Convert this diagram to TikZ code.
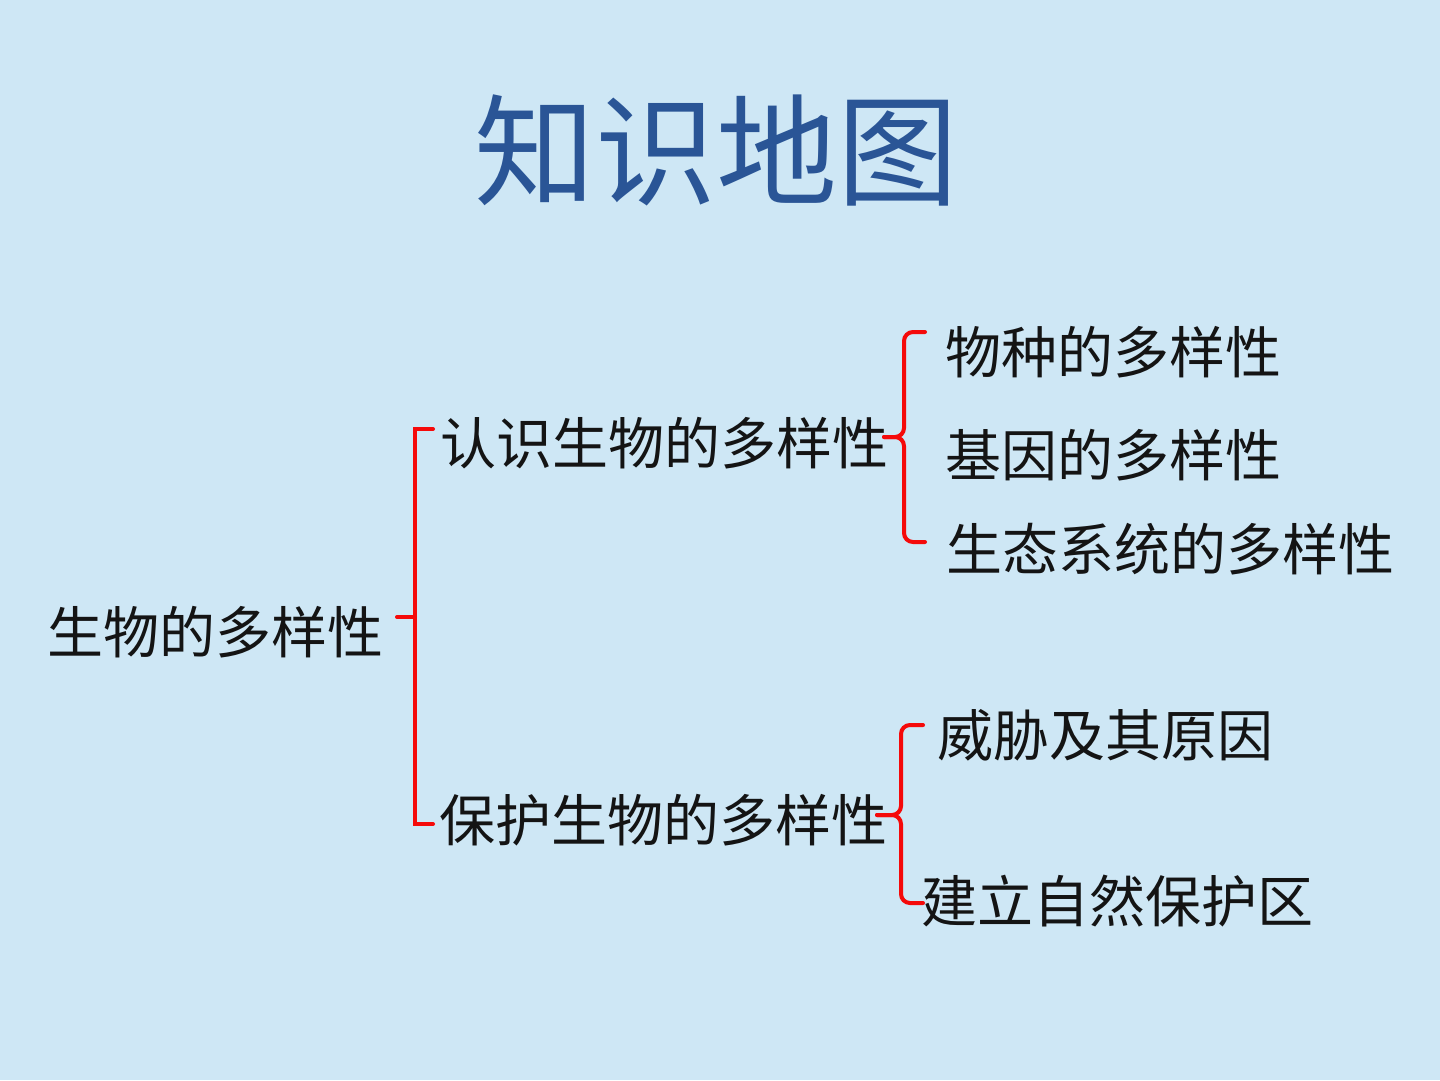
\documentclass[tikz,border=0pt]{standalone}
\usepackage{fontspec}
\newfontfamily\cjk{Noto Sans CJK SC}
\definecolor{bgblue}{RGB}{206,231,245}
\definecolor{titleblue}{RGB}{42,85,150}
\definecolor{bracered}{RGB}{245,10,10}
\begin{document}
\begin{tikzpicture}[x=1pt,y=-1pt,
  lbl/.style={inner sep=0pt, font=\cjk\fontsize{56}{60}\selectfont, text=black!92},
  ttl/.style={inner sep=0pt, font=\cjk\fontsize{121}{130}\selectfont, text=titleblue},
  br/.style={draw=bracered, line width=4pt, line cap=round, rounded corners=9pt}]
\fill[bgblue] (0,0) rectangle (1440,1080);
\useasboundingbox (0,0) rectangle (1440,1080);
\node[ttl] (title) at (716,150) {知识地图};
\node[lbl] (root) at (215,632) {生物的多样性};
\node[lbl] (know) at (664,443) {认识生物的多样性};
\node[lbl] (prot) at (663,820) {保护生物的多样性};
\node[lbl] (k1) at (1113,352) {物种的多样性};
\node[lbl] (k2) at (1113,455) {基因的多样性};
\node[lbl] (k3) at (1170,549) {生态系统的多样性};
\node[lbl] (p1) at (1105,735) {威胁及其原因};
\node[lbl] (p2) at (1117,901) {建立自然保护区};
% left bracket
\coordinate (lb) at (415,617);
\draw[br, rounded corners=0pt] (397,617) -- (lb);
\draw[br, rounded corners=0pt] (433,429) -- (415,429) -- (415,824) -- (433,824);
% upper right brace
\coordinate (ub) at (884,437);
\draw[br] (925,332) -- (904,332) -- (904,437) -- (ub);
\draw[br] (925,542) -- (904,542) -- (904,437) -- (ub);
% lower right brace
\coordinate (pb) at (877,815);
\draw[br] (923,725) -- (901,725) -- (901,815) -- (pb);
\draw[br] (923,903) -- (901,903) -- (901,815) -- (pb);
\end{tikzpicture}
\end{document}
